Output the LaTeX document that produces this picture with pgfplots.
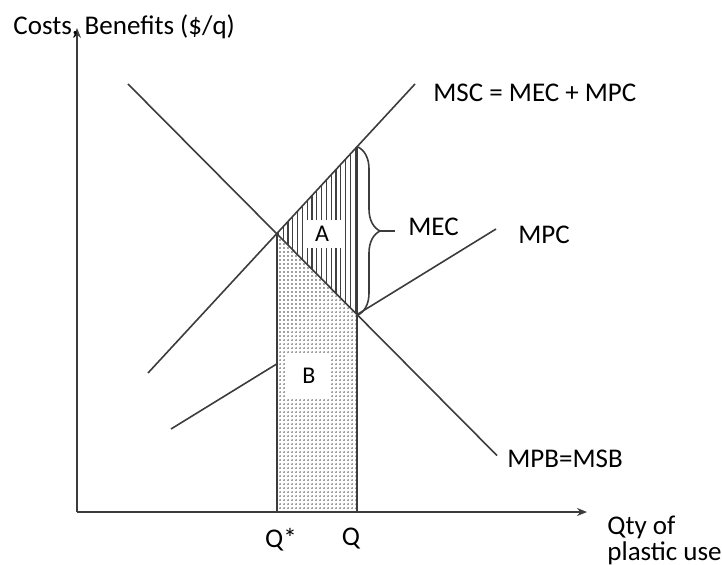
\documentclass[border=0pt]{standalone}
\usepackage{fontspec}
\setmainfont{Carlito}
\usepackage{pgfplots}
\pgfplotsset{compat=1.18}
\usetikzlibrary{patterns.meta, decorations.pathreplacing, arrows.meta}
\definecolor{ink}{RGB}{60,60,60}

\begin{document}
\begin{tikzpicture}
\begin{axis}[
  scale only axis,
  width=255pt, height=242pt,
  xmin=0, xmax=510, ymin=0, ymax=484,
  axis lines=left,
  axis line style={ink, line width=0.75pt, -{Stealth[length=5pt, width=4pt]}},
  ticks=none,
  clip=false,
  no markers,
  curve/.style={ink, solid, line width=0.8pt, mark=none},
]
% area B (dots) and area A (vertical hatching)
\addplot[draw=none, pattern={Dots[distance=2pt, radius=0.38pt]}, pattern color=black!75]
  coordinates {(200,0) (200,278.3) (280,197.4) (280,0)} -- cycle;
\addplot[draw=none, pattern={Lines[angle=90, distance=2.4pt, line width=0.6pt]}, pattern color=black!75]
  coordinates {(200,278.3) (280,365.2) (280,197.4)} -- cycle;
\node[fill=white, inner sep=0pt, minimum width=19pt, minimum height=14pt,
  font=\fontsize{12}{14}\selectfont] at (axis cs:245,278) {A};
\node[fill=white, inner sep=0pt, minimum width=22pt, minimum height=21pt,
  font=\fontsize{12}{14}\selectfont] at (axis cs:232,136) {B};

% curves
\addplot[curve] coordinates {(71,139) (338,428)};   % MSC
\addplot[curve] coordinates {(51,428) (420,56.5)};  % MPB = MSB
\addplot[curve] coordinates {(94,83) (200,148.2)};  % MPC, left of Q*
\addplot[curve] coordinates {(280,197.4) (419,283)};% MPC, right of Q
\addplot[curve] coordinates {(200,0) (200,278.3)};  % Q*
\addplot[curve] coordinates {(280,0) (280,365.2)};  % Q

% MEC brace
\draw[ink, line width=0.8pt, decorate, decoration={brace, amplitude=11pt}]
  (axis cs:281,365) -- (axis cs:281,197);
\draw[ink, line width=0.8pt] (axis cs:303,281) -- (axis cs:318,281);

\begin{scope}[every node/.style={inner sep=0pt, text=black, font=\fontsize{13.5}{16}\selectfont}]
\node[anchor=west] at (axis cs:-64,485) {Costs, Benefits (\$/q)};
\node[anchor=west] at (axis cs:356,419) {MSC = MEC + MPC};
\node[anchor=west] at (axis cs:331,285) {MEC};
\node[anchor=west] at (axis cs:441,277) {MPC};
\node[anchor=west] at (axis cs:430,53) {MPB=MSB};
\node[anchor=north] at (axis cs:204,-16) {Q*};
\node[anchor=north] at (axis cs:274,-16) {Q};
\node[anchor=north west, align=left, font=\fontsize{13.5}{11.5}\selectfont]
  at (axis cs:530,-4) {Qty of\\plastic use};
\end{scope}

\coordinate (bl) at (axis cs:-77,-52);
\coordinate (tr) at (axis cs:645,512);
\end{axis}
\pgfresetboundingbox
\path[use as bounding box] (bl) rectangle (tr);
\end{tikzpicture}
\end{document}
